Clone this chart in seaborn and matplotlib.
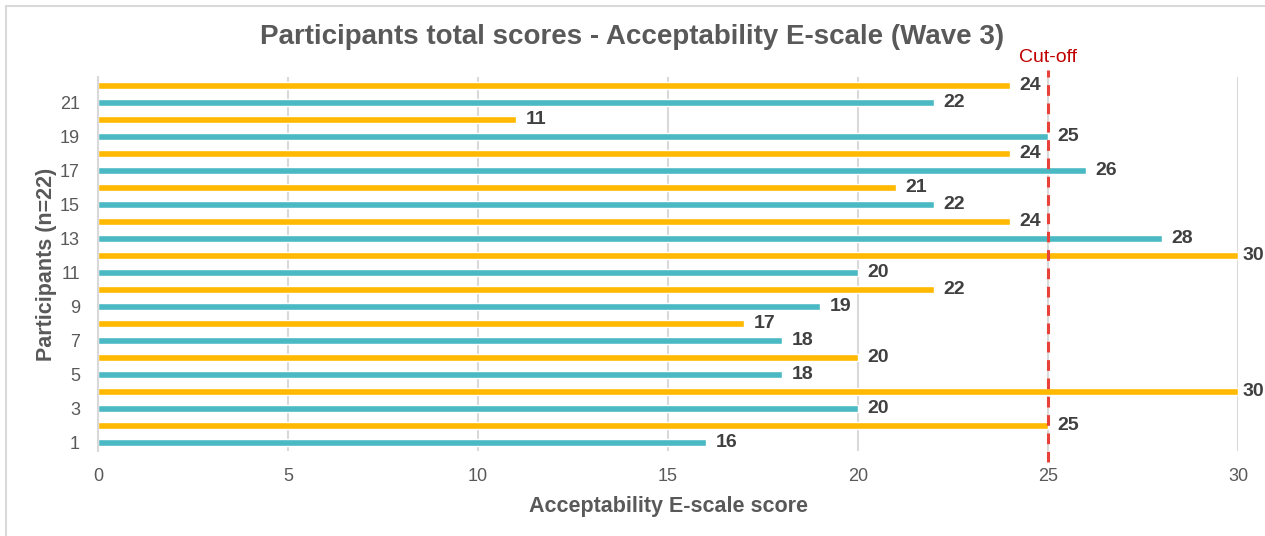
import matplotlib
matplotlib.use("Agg")
import matplotlib.pyplot as plt
from matplotlib.lines import Line2D
import pandas as pd
import seaborn as sns

# Total Acceptability E-scale scores per participant (1..22)
participants = [str(i) for i in range(1, 23)]
scores = [16, 25, 20, 30, 18, 20, 18, 17, 19, 22, 20,
          30, 28, 24, 22, 21, 26, 24, 25, 11, 22, 24]
cutoff = 25
x_ticks = [0, 5, 10, 15, 20, 25, 30]

df = pd.DataFrame({
    "participant": participants,
    "score": scores,
    "group": ["odd" if int(p) % 2 else "even" for p in participants],
})

TEAL = "#4BB9C3"
GOLD = "#FFB900"
GRID = "#D9D9D9"
TEXT = "#595959"
LABEL = "#404040"

sns.set_theme(style="white")
plt.rcParams["font.family"] = ["Liberation Sans", "DejaVu Sans"]

fig = plt.figure(figsize=(12.65, 5.36), dpi=100)
ax = fig.add_axes([0.0775, 0.1586, 0.9012, 0.6977])

order = participants[::-1]
sns.barplot(data=df, y="participant", x="score", hue="group", order=order,
            palette={"odd": TEAL, "even": GOLD}, dodge=False, width=0.36,
            orient="h", legend=False, saturation=1, ax=ax)

xmax = 30
for cont in ax.containers:
    anns = ax.bar_label(cont, fmt="%d", padding=7, fontsize=14,
                        fontweight="bold", color=LABEL)
    # labels at the right edge are pulled in so they stay inside the figure
    for ann, bar in zip(anns, cont):
        if bar.get_width() >= xmax:
            ann.xyann = (3, ann.xyann[1])

ax.set_xlim(0, xmax)
ax.set_ylim(len(order) - 0.5, -0.5)
ax.set_xticks(x_ticks)
ax.tick_params(axis="x", labelsize=13, colors=TEXT, length=0, pad=12)
ax.tick_params(axis="y", labelsize=13, colors=TEXT, length=0, pad=13)
ax.set_yticks(range(len(order)))
ax.set_yticklabels([p if int(p) % 2 else "" for p in order])
ax.grid(axis="x", color=GRID, linewidth=1.5)
ax.set_axisbelow(True)
for side in ["top", "right", "bottom"]:
    ax.spines[side].set_visible(False)
ax.spines["left"].set_color(GRID)
ax.spines["left"].set_linewidth(1.5)

ax.set_xlabel("Acceptability E-scale score", fontsize=15.5, fontweight="bold",
              color=TEXT, labelpad=8)
ax.set_ylabel("Participants (n=22)", fontsize=15.5, fontweight="bold",
              color=TEXT, labelpad=2)

# Cut-off reference line
ax.axvline(cutoff, ymin=-0.03, ymax=1.02, color="#E8413A", linewidth=2.2,
           linestyle=(0, (3.5, 2.5)), clip_on=False, zorder=5)
ax.text(cutoff, 1.052, "Cut-off", transform=ax.get_xaxis_transform(),
        ha="center", va="center", fontsize=14, color="#C00000")

fig.text(0.5, 0.931, "Participants total scores - Acceptability E-scale (Wave 3)",
         ha="center", va="center", fontsize=20, fontweight="bold", color=TEXT)

# Chart frame (left and top edges)
W, H = 1265, 536
for xs, ys in [([6, 6], [0, H - 6]), ([6, W], [H - 6, H - 6])]:
    fig.add_artist(Line2D([x / W for x in xs], [y / H for y in ys],
                          color=GRID, linewidth=1.5, transform=fig.transFigure))

fig.savefig("out.png", dpi=100)
